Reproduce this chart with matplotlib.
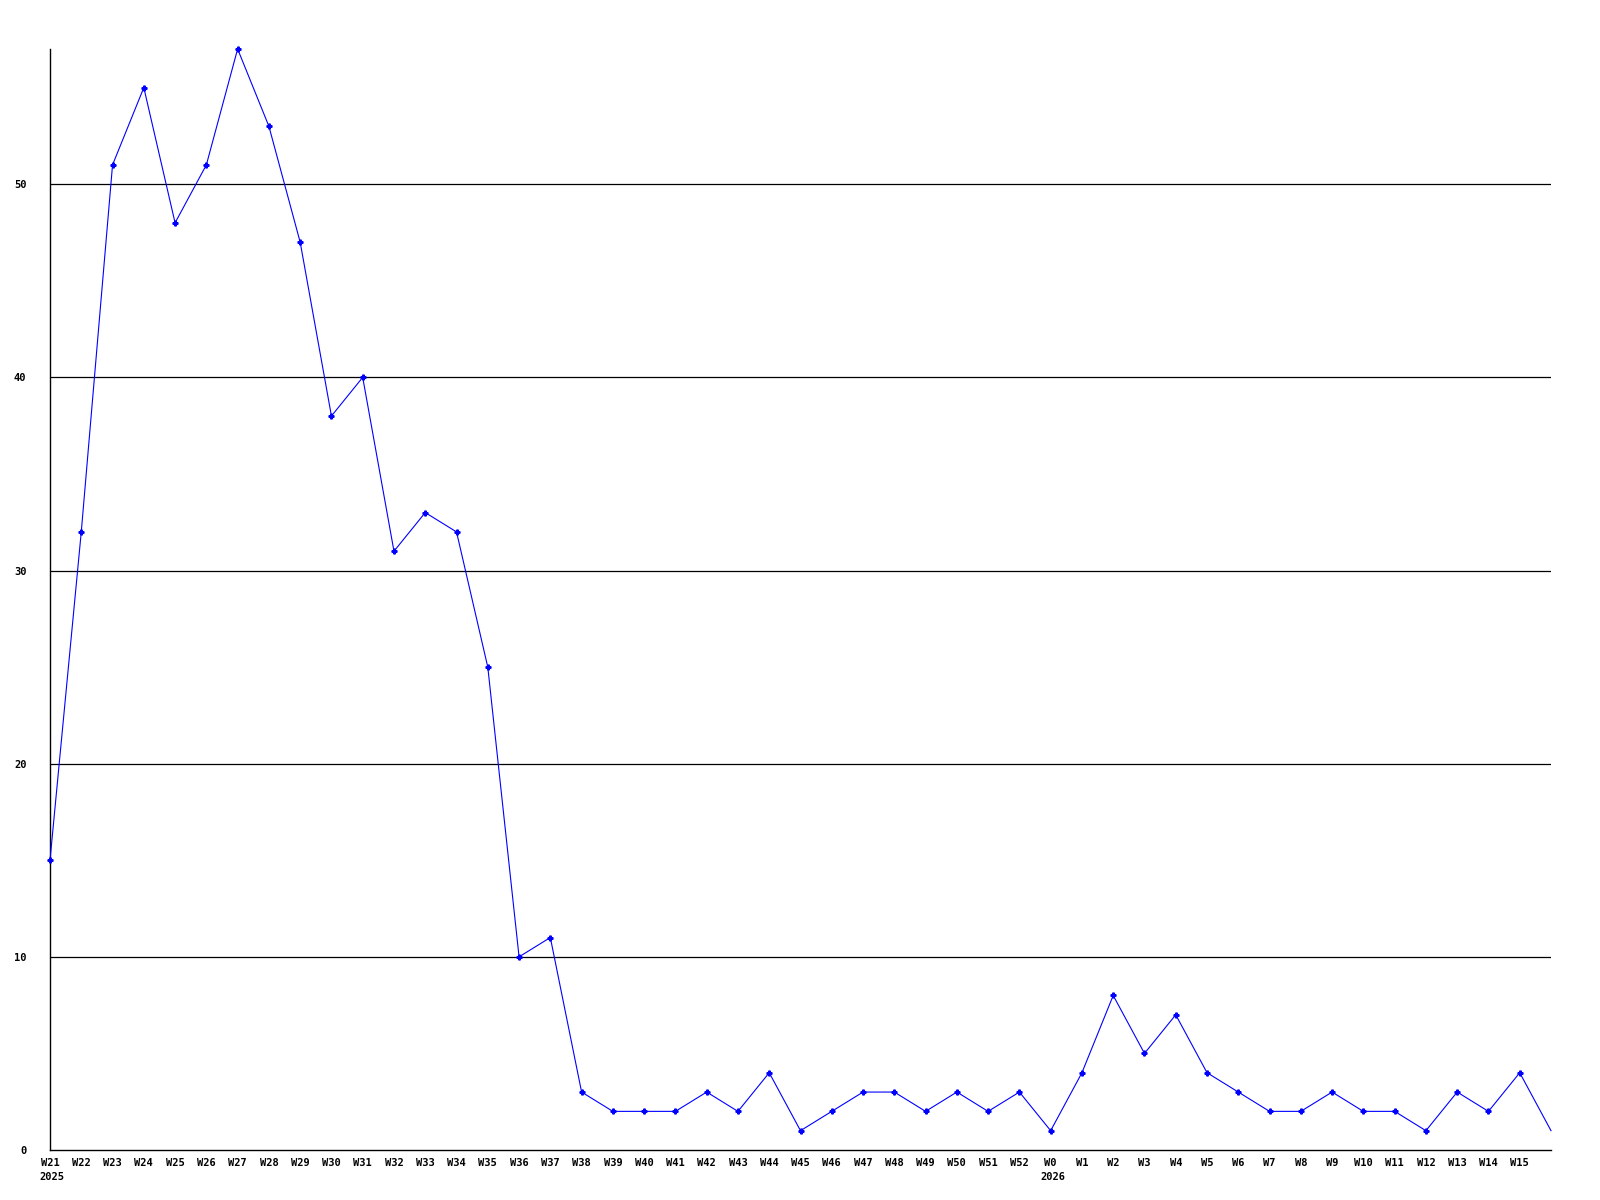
import matplotlib.pyplot as plt
from matplotlib.transforms import blended_transform_factory

# ==============================
# Datos (semanas 2025-2026)
# ==============================
semanas = ["W21", "W22", "W23", "W24", "W25", "W26", "W27", "W28", "W29", "W30",
           "W31", "W32", "W33", "W34", "W35", "W36", "W37", "W38", "W39", "W40",
           "W41", "W42", "W43", "W44", "W45", "W46", "W47", "W48", "W49", "W50",
           "W51", "W52", "W0", "W1", "W2", "W3", "W4", "W5", "W6", "W7",
           "W8", "W9", "W10", "W11", "W12", "W13", "W14", "W15", ""]
valores = [15, 32, 51, 55, 48, 51, 57, 53, 47, 38,
           40, 31, 33, 32, 25, 10, 11, 3, 2, 2,
           2, 3, 2, 4, 1, 2, 3, 3, 2, 3,
           2, 3, 1, 4, 8, 5, 7, 4, 3, 2,
           2, 3, 2, 2, 1, 3, 2, 4, 1]
anios = {"W21": "2025", "W0": "2026"}
y_ticks = [0, 10, 20, 30, 40, 50]

FUENTE = dict(family="DejaVu Sans Mono", weight="bold", size=7.5)

fig = plt.figure(figsize=(16, 12), dpi=100)
ax = fig.add_axes([50 / 1600, 1 - 1150 / 1200, 1501 / 1600, 1101 / 1200])

x = list(range(len(valores)))
ax.plot(x, valores, color="#0000ff", linewidth=0.8, zorder=3, clip_on=False)
# el ultimo punto (semana en curso) no lleva marcador
ax.plot(x[:-1], valores[:-1], linestyle="none", marker="P", markersize=3.5,
        color="#0000ff", zorder=4, clip_on=False)

for v in y_ticks[1:]:
    ax.axhline(v, color="black", linewidth=0.9, zorder=1)

ax.set_xlim(0, len(valores) - 1)
ax.set_ylim(0, max(valores))
ax.set_yticks(y_ticks)
ax.set_yticklabels([str(v) for v in y_ticks], fontdict=FUENTE)
ax.set_xticks(x[:-1])
ax.set_xticklabels(semanas[:-1], fontdict=FUENTE)
ax.tick_params(axis="y", length=0, pad=17)
ax.tick_params(axis="x", length=0, pad=6)

for lado in ["top", "right"]:
    ax.spines[lado].set_visible(False)
for lado in ["left", "bottom"]:
    ax.spines[lado].set_color("black")
    ax.spines[lado].set_linewidth(1.0)

trans = blended_transform_factory(ax.transData, ax.transAxes)
for sem, anio in anios.items():
    i = semanas.index(sem)
    ax.annotate(anio, xy=(i, 0), xycoords=trans, xytext=(-7.5, -16),
                textcoords="offset points", ha="left", va="top", **FUENTE)

fig.savefig("out.png", dpi=100, facecolor="white")
